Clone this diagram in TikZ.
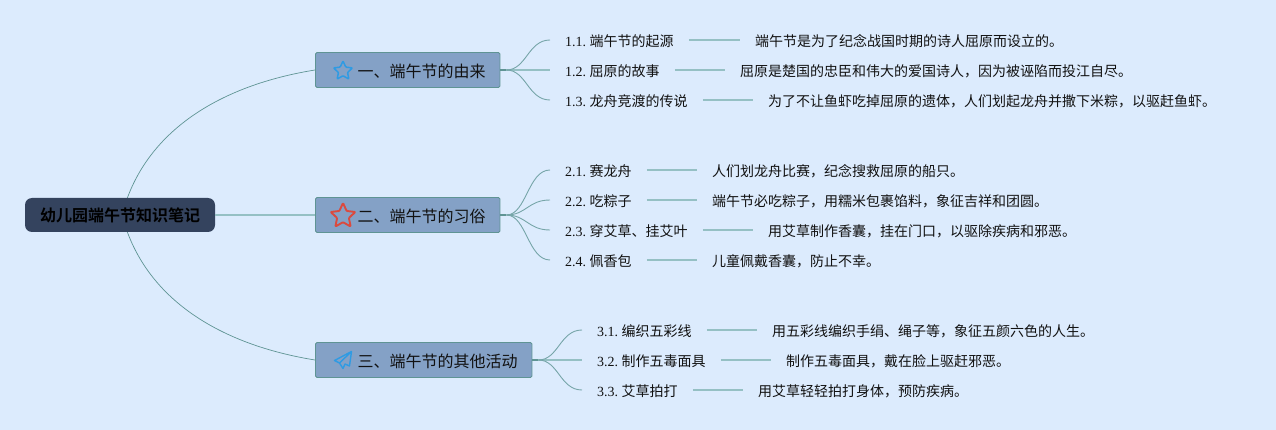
\documentclass[tikz,border=0pt]{standalone}
\usepackage{fontspec}
\setmainfont{Liberation Serif}
\newfontfamily\cjk[BoldFont={Noto Sans CJK SC Bold}]{Noto Sans CJK SC}
\usetikzlibrary{shapes.geometric}
\definecolor{bgc}{HTML}{DCEBFD}
\definecolor{rootc}{HTML}{34435E}
\definecolor{topicc}{HTML}{84A1C6}
\definecolor{edgec}{HTML}{5F9494}
\definecolor{thinc}{HTML}{76A5A8}
\definecolor{midc}{HTML}{95C0C4}
\definecolor{textc}{HTML}{111111}
\definecolor{iconblue}{HTML}{2F9BE3}
\definecolor{iconred}{HTML}{DB4A3F}
\frenchspacing
\tikzset{
  x=1pt,y=-1pt,
  rootbox/.style={draw=none,fill=rootc,rounded corners=7pt,minimum width=190pt,minimum height=34pt,inner sep=0pt,font=\cjk\bfseries\fontsize{16}{16}\selectfont,text=black},
  topicbox/.style={draw=edgec,line width=0.9pt,fill=topicc,rounded corners=1.5pt,minimum height=35pt,inner sep=0pt,anchor=west,font=\cjk\fontsize{16}{16}\selectfont,text=textc},
  topiclabel/.style={anchor=west,inner sep=0pt,font=\cjk\fontsize{16}{16}\selectfont,text=textc},
  subtext/.style={anchor=west,inner sep=0pt,text height=13.4pt,text depth=0.4pt,font=\fontsize{14}{14}\selectfont,text=textc},
  branch/.style={draw=thinc,line width=0.9pt},
  midbranch/.style={draw=midc,line width=1.6pt},
  stub/.style={draw=edgec,line width=1.8pt},
  rootlink/.style={draw=edgec,line width=0.7pt},
  rootmid/.style={draw=midc,line width=1.3pt},
  leaflink/.style={draw=midc,line width=1.4pt,shorten <=15pt,shorten >=15pt},
  staricon/.style={star,star points=5,star point ratio=2.1,inner sep=0pt,fill=none,line join=round,rounded corners=0.8pt}
}
\newcommand{\cj}[1]{{\cjk #1}}
\begin{document}
\begin{tikzpicture}
\useasboundingbox (0,0) rectangle (1276,430);
\fill[bgc] (0,0) rectangle (1276,430);
\coordinate (rs) at (122,215);
\draw[rootlink] (rs) .. controls (144,130) and (222,85) .. (315,70);
\draw[rootlink] (rs) .. controls (144,300) and (222,345) .. (315,360);
\node[rootbox] (root) at (120,215) {幼儿园端午节知识笔记};
\node[topicbox,minimum width=184.5pt] (a) at (315,70) {};
\node[topicbox,minimum width=184.5pt] (b) at (315,215) {};
\node[topicbox,minimum width=216.5pt] (c) at (315,360) {};
\node[topiclabel] (al) at (357.5,71) {一、端午节的由来};
\node[topiclabel] (bl) at (357.5,216) {二、端午节的习俗};
\node[topiclabel] (cl) at (357.5,361) {三、端午节的其他活动};
\draw[rootmid] (root.east) -- (b.west);
% icons
\node[staricon,draw=iconblue,line width=1.5pt,minimum size=20pt] (ia) at (343,71) {};
\node[staricon,draw=iconred,line width=1.9pt,minimum size=26pt] (ib) at (343,216) {};
\draw[draw=iconblue,line width=1.4pt,line join=round] (351.5,351.5) -- (334.5,360.5) -- (339.5,363) -- (343,368.5) -- (345,364) -- (349.5,366) -- cycle (351.5,351.5) -- (340,362.5);
% level 2 text
\node[subtext] (t11) at (565,40) {1.1. \cj{端午节的起源}};
\node[subtext] (t12) at (565,70) {1.2. \cj{屈原的故事}};
\node[subtext] (t13) at (565,100) {1.3. \cj{龙舟竞渡的传说}};
\node[subtext] (t21) at (565,170) {2.1. \cj{赛龙舟}};
\node[subtext] (t22) at (565,200) {2.2. \cj{吃粽子}};
\node[subtext] (t23) at (565,230) {2.3. \cj{穿艾草、挂艾叶}};
\node[subtext] (t24) at (565,260) {2.4. \cj{佩香包}};
\node[subtext] (t31) at (597,330) {3.1. \cj{编织五彩线}};
\node[subtext] (t32) at (597,360) {3.2. \cj{制作五毒面具}};
\node[subtext] (t33) at (597,390) {3.3. \cj{艾草拍打}};
% details
\node[subtext] (d11) at (755,40) {\cj{端午节是为了纪念战国时期的诗人屈原而设立的。}};
\node[subtext] (d12) at (740,70) {\cj{屈原是楚国的忠臣和伟大的爱国诗人，因为被诬陷而投江自尽。}};
\node[subtext] (d13) at (768,100) {\cj{为了不让鱼虾吃掉屈原的遗体，人们划起龙舟并撒下米粽，以驱赶鱼虾。}};
\node[subtext] (d21) at (712,170) {\cj{人们划龙舟比赛，纪念搜救屈原的船只。}};
\node[subtext] (d22) at (712,200) {\cj{端午节必吃粽子，用糯米包裹馅料，象征吉祥和团圆。}};
\node[subtext] (d23) at (768,230) {\cj{用艾草制作香囊，挂在门口，以驱除疾病和邪恶。}};
\node[subtext] (d24) at (712,260) {\cj{儿童佩戴香囊，防止不幸。}};
\node[subtext] (d31) at (772,330) {\cj{用五彩线编织手绢、绳子等，象征五颜六色的人生。}};
\node[subtext] (d32) at (786,360) {\cj{制作五毒面具，戴在脸上驱赶邪恶。}};
\node[subtext] (d33) at (758,390) {\cj{用艾草轻轻拍打身体，预防疾病。}};
% leaf links
\foreach \n in {11,12,13,21,22,23,24,31,32,33} \draw[leaflink] (t\n.east) -- (d\n.west);
% branches
\draw[midbranch] (a.east) -- ([xshift=-15pt]t12.west);
\draw[midbranch] (c.east) -- ([xshift=-15pt]t32.west);
\foreach \p/\n in {a/11,a/13,b/21,b/22,b/23,b/24,c/31,c/33}
  \draw[branch] ([xshift=6pt]\p.east) .. controls +(20,0) and +(-22,0) .. ([xshift=-15pt]t\n.west);
\foreach \p in {a,b,c} \draw[stub] (\p.east) -- ([xshift=6pt]\p.east);
\end{tikzpicture}
\end{document}
